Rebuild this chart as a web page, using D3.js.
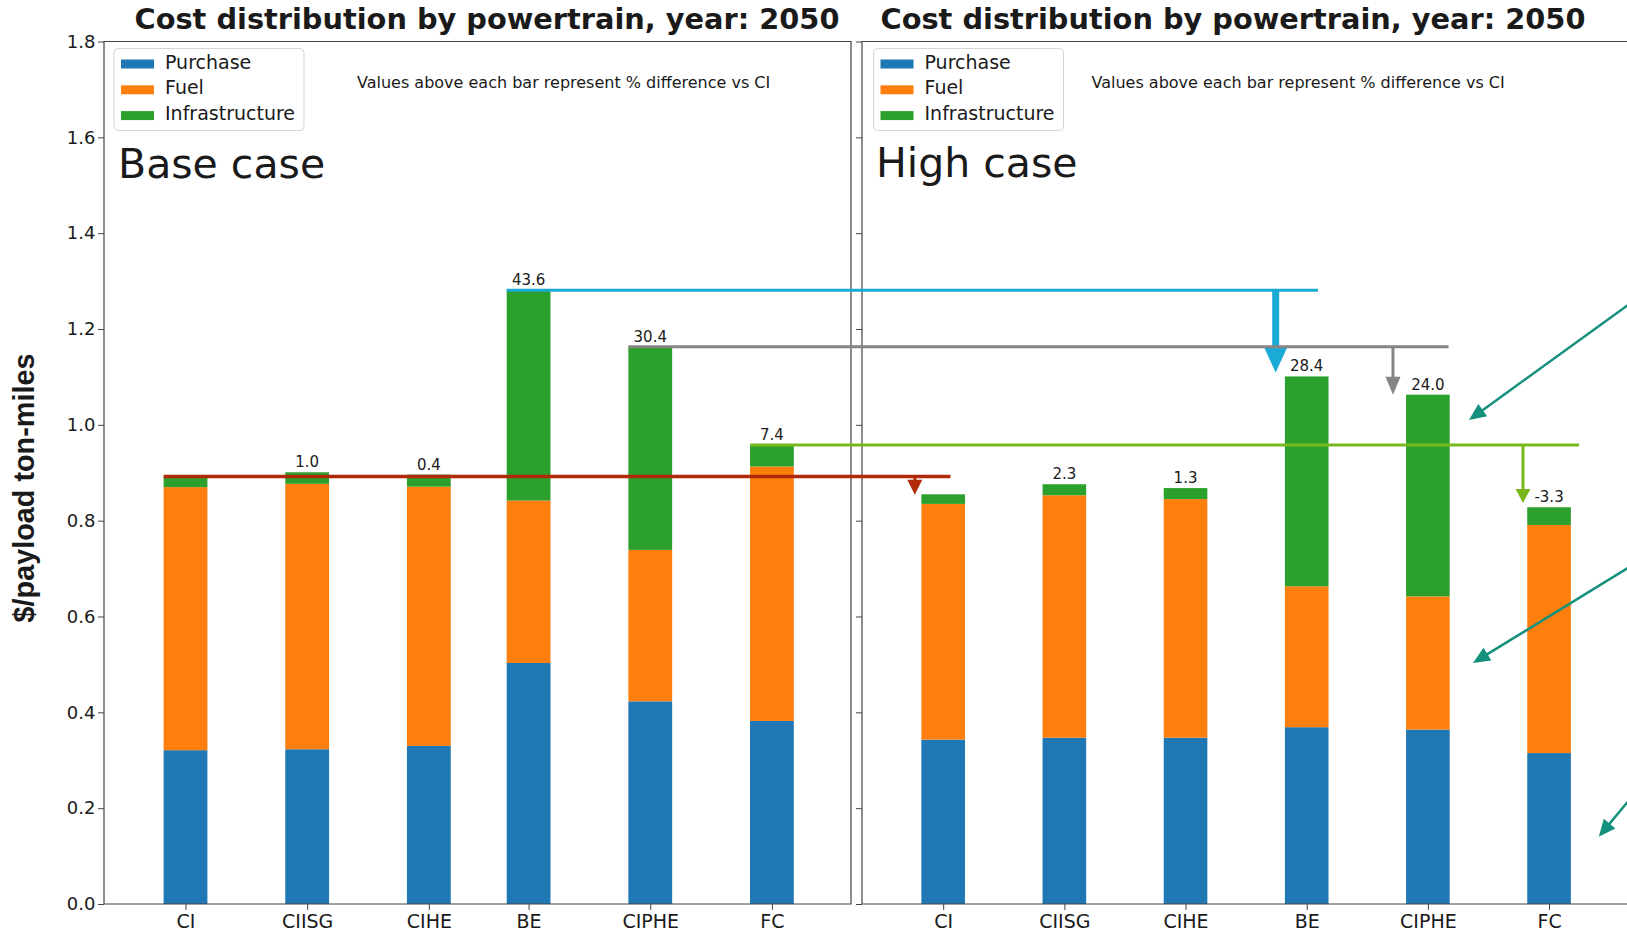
<!DOCTYPE html>
<html>
<head>
<meta charset="utf-8">
<script src="https://cdn.jsdelivr.net/npm/d3@7"></script>
<style>
	body { margin: 0; background: #fff; }
	svg { display: block; }
	text { font-family: 'DejaVu Sans', sans-serif; fill: #1a1a1a; }
</style>
</head>
<body>
<svg></svg>
<script>
// categories / series
const categories = ['CI', 'CIISG', 'CIHE', 'BE', 'CIPHE', 'FC'];
const seriesNames = ['Purchase', 'Fuel', 'Infrastructure'];
const yTicks = [0, 0.2, 0.4, 0.6, 0.8, 1.0, 1.2, 1.4, 1.6, 1.8];

// base case, $/payload ton-miles
const basePurchase = [0.321, 0.323, 0.330, 0.503, 0.423, 0.382];
const baseFuel = [0.549, 0.554, 0.541, 0.339, 0.316, 0.531];
const baseInfra = [0.022, 0.024, 0.025, 0.439, 0.424, 0.045];
const baseLabels = ['', '1.0', '0.4', '43.6', '30.4', '7.4'];

// high case
const highPurchase = [0.343, 0.347, 0.347, 0.369, 0.364, 0.315];
const highFuel = [0.492, 0.506, 0.498, 0.294, 0.278, 0.476];
const highInfra = [0.020, 0.023, 0.023, 0.438, 0.421, 0.037];
const highLabels = ['', '2.3', '1.3', '28.4', '24.0', '-3.3'];

const colors = { Purchase: '#1f77b4', Fuel: '#ff7f0e', Infrastructure: '#2ca02c' };

const width = 1627;
const height = 932;

const svg = d3.select('svg')
	.attr('width', width)
	.attr('height', height);

svg.append('rect').attr('width', width).attr('height', height).attr('fill', '#fff');

const yScale = d3.scaleLinear()
	.domain([0, 1.8])
	.range([904, 41.5]);

const panels = [
	{
		name: 'Base case', purchase: basePurchase, fuel: baseFuel, infra: baseInfra, labels: baseLabels,
		slots: [0, 1, 2, 2.82, 3.82, 4.82], range: [104, 851], titleX: 487, legendX: 114, noteX: 357, caseX: 118, caseY: 178
	},
	{
		name: 'High case', purchase: highPurchase, fuel: highFuel, infra: highInfra, labels: highLabels,
		slots: [0, 1, 2, 3, 4, 5], range: [862, 1606], titleX: 1233, legendX: 873.5, noteX: 1091.5, caseX: 876, caseY: 177
	}
];

panels.forEach(p => {
	p.x = d3.scaleLinear().domain([-0.67, 5.47]).range(p.range);
	p.rows = categories.map((c, i) => ({
		cat: c, Purchase: p.purchase[i], Fuel: p.fuel[i], Infrastructure: p.infra[i]
	}));
	p.totals = p.rows.map(d => d.Purchase + d.Fuel + d.Infrastructure);
});

const barWidth = 0.36;

panels.forEach((p, pi) => {
	const g = svg.append('g');
	const x = p.x;
	const bw = x(barWidth) - x(0);
	const stack = d3.stack().keys(seriesNames)(p.rows);

	// bars
	g.selectAll('g.layer').data(stack).join('g')
		.attr('class', 'layer')
		.attr('fill', d => colors[d.key])
		.selectAll('rect').data(d => d).join('rect')
		.attr('x', (d, i) => x(p.slots[i]) - bw / 2)
		.attr('y', d => yScale(d[1]))
		.attr('width', bw)
		.attr('height', d => yScale(d[0]) - yScale(d[1]));

	// % labels
	g.selectAll('text.val').data(p.labels).join('text')
		.attr('class', 'val')
		.attr('x', (d, i) => x(p.slots[i]))
		.attr('y', (d, i) => yScale(p.totals[i]) - 5)
		.attr('text-anchor', 'middle')
		.attr('font-size', 15)
		.text(d => d);

	// axes
	const yAxis = d3.axisLeft(yScale)
		.tickValues(yTicks)
		.tickFormat(pi === 0 ? d3.format('.1f') : '')
		.tickSize(6)
		.tickPadding(2.5);

	const yAxisGroup = g.append('g')
		.attr('transform', `translate(${p.range[0]},0)`)
		.call(yAxis);
	yAxisGroup.select('.domain').remove();
	yAxisGroup.selectAll('text').attr('font-size', 18).attr('font-family', 'DejaVu Sans').attr('fill', '#1a1a1a');
	yAxisGroup.selectAll('line').attr('stroke', '#444');

	const xAxis = d3.axisBottom(x)
		.tickValues(p.slots)
		.tickFormat((d, i) => categories[i])
		.tickSize(6)
		.tickPadding(5);

	const xAxisGroup = g.append('g')
		.attr('transform', `translate(0,${yScale(0)})`)
		.call(xAxis);
	xAxisGroup.select('.domain').remove();
	xAxisGroup.selectAll('text').attr('font-size', 19).attr('font-family', 'DejaVu Sans').attr('fill', '#1a1a1a');
	xAxisGroup.selectAll('line').attr('stroke', '#444');

	// spines
	const right = pi === 0 ? p.range[1] : width + 5;
	const spine = d3.path();
	spine.moveTo(right, yScale(1.8));
	spine.lineTo(p.range[0], yScale(1.8));
	spine.lineTo(p.range[0], yScale(0));
	spine.lineTo(right, yScale(0));
	if (pi === 0) spine.closePath();
	g.append('path')
		.attr('d', spine.toString())
		.attr('fill', 'none')
		.attr('stroke', '#444')
		.attr('stroke-width', 1.2);

	// title
	g.append('text')
		.attr('x', p.titleX)
		.attr('y', 29)
		.attr('text-anchor', 'middle')
		.attr('font-size', 28.8)
		.attr('font-weight', 'bold')
		.attr('fill', '#000')
		.text('Cost distribution by powertrain, year: 2050');

	// legend
	const lg = g.append('g').attr('transform', `translate(${p.legendX},48.5)`);
	lg.append('rect')
		.attr('width', 190)
		.attr('height', 82)
		.attr('rx', 4)
		.attr('fill', '#fff')
		.attr('stroke', '#d5d5d5');
	seriesNames.forEach((s, i) => {
		lg.append('rect')
			.attr('x', 7)
			.attr('y', 11 + i * 25.8)
			.attr('width', 33)
			.attr('height', 9)
			.attr('fill', colors[s]);
		lg.append('text')
			.attr('x', 51)
			.attr('y', 20 + i * 25.8)
			.attr('font-size', 19)
			.text(s);
	});

	g.append('text')
		.attr('x', p.noteX)
		.attr('y', 88)
		.attr('font-size', 16)
		.text('Values above each bar represent % difference vs CI');

	g.append('text')
		.attr('x', p.caseX)
		.attr('y', p.caseY)
		.attr('font-size', 41)
		.attr('fill', '#111')
		.text(p.name);
});

// connectors: base-case bar top carried over to the high case panel
const connectors = [
	{ from: 0, color: '#b02a0a', endAt: 0.06, arrowAt: -0.234, tip: 0.854, line: 3.5, stem: 3, headL: 15, headW: 15 },
	{ from: 3, color: '#19aad6', endAt: 3.093, arrowAt: 2.744, tip: 1.109, line: 3, stem: 7, headL: 25, headW: 23 },
	{ from: 4, color: '#858585', endAt: 4.171, arrowAt: 3.712, tip: 1.063, line: 3, stem: 3, headL: 18, headW: 15 },
	{ from: 5, color: '#78b81c', endAt: 5.247, arrowAt: 4.785, tip: 0.837, line: 3, stem: 3, headL: 14, headW: 15 }
];

// arrows pointing in from the right edge (high case units)
const pointers = [
	{ from: [5.7, 1.259], to: [4.339, 1.010] },
	{ from: [5.7, 0.709], to: [4.372, 0.503] },
	{ from: [5.7, 0.2288], to: [5.41, 0.1405] }
];

const base = panels[0];
const high = panels[1];
const ann = svg.append('g');

function arrow(x1, y1, x2, y2, color, lineWidth, headL, headW) {
	const dx = x2 - x1;
	const dy = y2 - y1;
	const len = Math.sqrt(dx * dx + dy * dy);
	const ux = dx / len;
	const uy = dy / len;
	const bx = x2 - ux * headL;
	const by = y2 - uy * headL;
	ann.append('line')
		.attr('x1', x1).attr('y1', y1)
		.attr('x2', bx + ux).attr('y2', by + uy)
		.attr('stroke', color)
		.attr('stroke-width', lineWidth);
	const head = d3.path();
	head.moveTo(x2, y2);
	head.lineTo(bx - uy * headW / 2, by + ux * headW / 2);
	head.lineTo(bx + uy * headW / 2, by - ux * headW / 2);
	head.closePath();
	ann.append('path')
		.attr('d', head.toString())
		.attr('fill', color);
}

connectors.forEach(c => {
	const bw = base.x(barWidth) - base.x(0);
	const yTop = yScale(base.totals[c.from]);
	ann.append('line')
		.attr('x1', base.x(base.slots[c.from]) - bw / 2)
		.attr('x2', high.x(c.endAt))
		.attr('y1', yTop)
		.attr('y2', yTop)
		.attr('stroke', c.color)
		.attr('stroke-width', c.line);
	arrow(high.x(c.arrowAt), yTop, high.x(c.arrowAt), yScale(c.tip), c.color, c.stem, c.headL, c.headW);
});

pointers.forEach(a => {
	arrow(high.x(a.from[0]), yScale(a.from[1]), high.x(a.to[0]), yScale(a.to[1]), '#14907c', 2.5, 17, 15);
});

// y label
svg.append('text')
	.attr('transform', 'translate(33.5,488) rotate(-90)')
	.attr('text-anchor', 'middle')
	.attr('font-size', 28.8)
	.attr('font-weight', 'bold')
	.style('font-family', "'Liberation Sans', Arial, sans-serif")
	.text('$/payload ton-miles');
</script>
</body>
</html>
